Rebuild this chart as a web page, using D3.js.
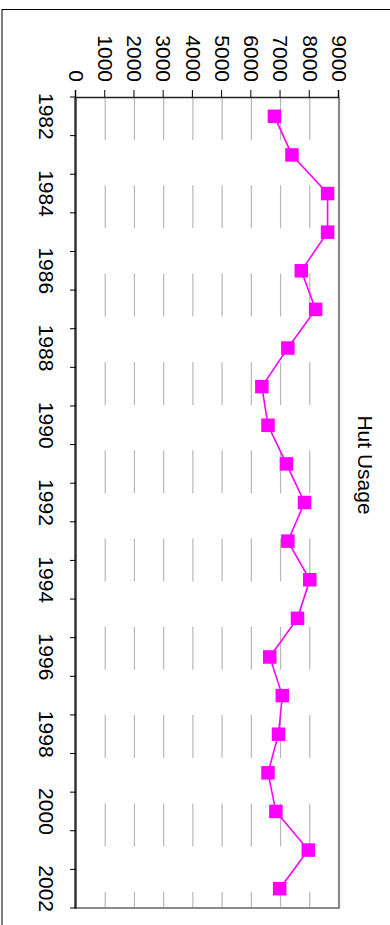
<!DOCTYPE html>
<meta charset="utf-8">
<style>
  body { margin: 0; background: #fff; }
  text { font-family: "Liberation Sans Narrow", "Arial Narrow", "Liberation Sans", Arial, sans-serif; }
</style>
<body>
<script src="https://cdn.jsdelivr.net/npm/d3@7"></script>
<script>
  var years = ["1982","1983","1984","1985","1986","1987","1988","1989","1990","1991","1992",
               "1993","1994","1995","1996","1997","1998","1999","2000","2001","2002"];
  var usage = [6790, 7390, 8610, 8610, 7710, 8200, 7250, 6360, 6570, 7200, 7820,
               7250, 8000, 7580, 6630, 7060, 6930, 6570, 6840, 7950, 6970];
  var valueTicks = [0, 1000, 2000, 3000, 4000, 5000, 6000, 7000, 8000, 9000];
  var title = "Hut Usage";

  var data = years.map(function(y, i) { return {year: y, value: usage[i]}; });

  var svg = d3.select("body").append("svg")
          .attr("width", 390)
          .attr("height", 925);

  // chart is drawn landscape, then turned a quarter clockwise
  var g = svg.append("g").attr("transform", "translate(390,0) rotate(90)");

  var margin = {top: 51, right: 17, bottom: 76, left: 97},
      W = 925, H = 390;

  var xScale = d3.scaleBand().domain(years).range([margin.left, W - margin.right]);
  var yScale = d3.scaleLinear().domain([0, 9000]).range([H - margin.bottom, margin.top]);

  // outer frame
  g.append("rect")
          .attr("x", 9.5).attr("y", -20)
          .attr("width", 960).attr("height", 408)
          .style("fill", "none").style("stroke", "#000").style("stroke-width", 1);

  // gridlines
  g.append("g").selectAll("line")
          .data(valueTicks.filter(function(d) { return d > 0 && d < 9000; }))
          .enter().append("line")
          .attr("x1", margin.left).attr("x2", W - margin.right)
          .attr("y1", function(d) { return yScale(d); })
          .attr("y2", function(d) { return yScale(d); })
          .style("stroke", "#b8b8b8")
          .style("stroke-width", 1.2)
          .style("stroke-dasharray", "43,45.3");

  // plot frame (top + right, grey)
  g.append("path")
          .attr("d", "M" + margin.left + "," + yScale(9000) + "H" + (W - margin.right) + "V" + yScale(0))
          .style("fill", "none").style("stroke", "#8a8a8a").style("stroke-width", 2.2);

  // value axis
  var yAxis = g.append("g")
          .attr("transform", "translate(" + margin.left + ",0)")
          .call(d3.axisLeft(yScale).tickValues(valueTicks).tickSize(7).tickPadding(8).tickFormat(d3.format("d")));
  yAxis.select(".domain").style("stroke", "#222").style("stroke-width", 1.5);
  yAxis.selectAll("text").style("font-size", "21px").style("fill", "#000");

  // category axis
  var xAxis = g.append("g")
          .attr("transform", "translate(0," + yScale(0) + ")")
          .call(d3.axisBottom(xScale).tickSize(0).tickPadding(22)
                  .tickFormat(function(d, i) { return i % 2 === 0 ? d : ""; }));
  xAxis.select(".domain").style("stroke", "#333").style("stroke-width", 2.5);
  xAxis.selectAll("text").style("font-size", "21px").style("fill", "#000");

  var bounds = years.map(function(d) { return xScale(d); }).concat([xScale.range()[1]]);
  xAxis.selectAll(".bound").data(bounds).enter().append("line")
          .attr("class", "bound")
          .attr("x1", function(d) { return d; }).attr("x2", function(d) { return d; })
          .attr("y1", 0).attr("y2", 6)
          .style("stroke", "#000").style("stroke-width", 1);

  // series
  var cx = function(d) { return xScale(d.year) + xScale.bandwidth() / 2; };
  var line = d3.line().x(cx).y(function(d) { return yScale(d.value); });

  g.append("path")
          .datum(data)
          .attr("d", line)
          .style("fill", "none")
          .style("stroke", "#ff00ff")
          .style("stroke-width", 1.6);

  var s = 13.5;
  g.selectAll(".pt").data(data).enter().append("rect")
          .attr("class", "pt")
          .attr("x", function(d) { return cx(d) - s / 2; })
          .attr("y", function(d) { return yScale(d.value) - s / 2; })
          .attr("width", s).attr("height", s)
          .style("fill", "#ff00ff");

  // title
  g.append("text")
          .attr("x", 465).attr("y", 25)
          .attr("text-anchor", "middle")
          .attr("dominant-baseline", "central")
          .style("font-size", "21px")
          .text(title);
</script>
</body>
</html>
